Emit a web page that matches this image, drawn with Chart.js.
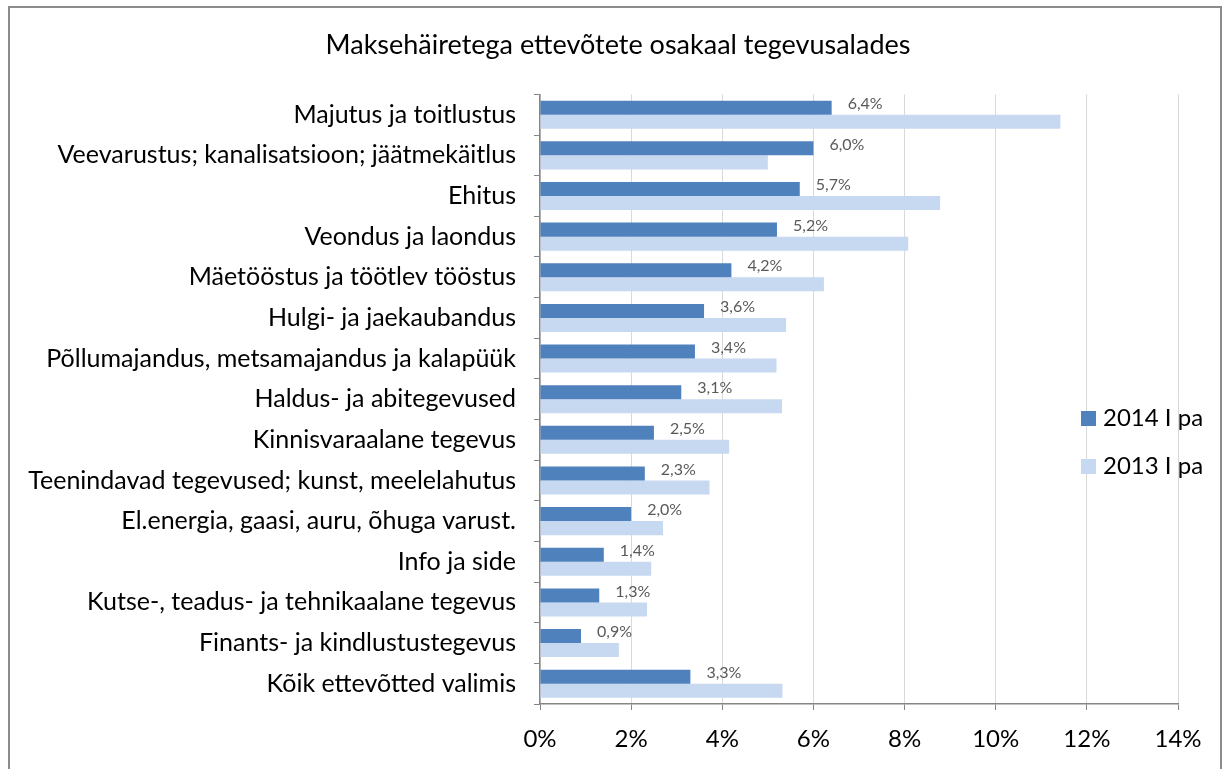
<!DOCTYPE html>
<html>
<head>
<meta charset="utf-8">
<script src="https://cdn.jsdelivr.net/npm/chart.js@4/dist/chart.umd.min.js"></script>
<style>
html,body{margin:0;padding:0;background:#fff;}
#wrap{width:1226px;height:769px;position:relative;}
</style>
</head>
<body>
<div id="wrap"><canvas id="c" width="1226" height="769"></canvas></div>
<script>
const chartTitle = "Maksehäiretega ettevõtete osakaal tegevusalades";
const categories = [
  "Majutus ja toitlustus",
  "Veevarustus; kanalisatsioon; jäätmekäitlus",
  "Ehitus",
  "Veondus ja laondus",
  "Mäetööstus ja töötlev tööstus",
  "Hulgi- ja jaekaubandus",
  "Põllumajandus, metsamajandus ja kalapüük",
  "Haldus- ja abitegevused",
  "Kinnisvaraalane tegevus",
  "Teenindavad tegevused; kunst, meelelahutus",
  "El.energia, gaasi, auru, õhuga varust.",
  "Info ja side",
  "Kutse-, teadus- ja tehnikaalane tegevus",
  "Finants- ja kindlustustegevus",
  "Kõik ettevõtted valimis"
];
const seriesNames = ["2014 I pa", "2013 I pa"];
const values2014 = [6.4, 6.0, 5.7, 5.2, 4.2, 3.6, 3.4, 3.1, 2.5, 2.3, 2.0, 1.4, 1.3, 0.9, 3.3];
const values2013 = [11.42, 5.0, 8.78, 8.08, 6.23, 5.40, 5.19, 5.31, 4.15, 3.72, 2.70, 2.44, 2.35, 1.73, 5.32];
const xTickValues = [0, 2, 4, 6, 8, 10, 12, 14];

const FONT = "Lato, 'Open Sans', sans-serif";
const AXIS_GRAY = '#868686';

const framePlugin = {
  id: 'frame',
  beforeDraw(chart) {
    const ctx = chart.ctx;
    ctx.save();
    ctx.fillStyle = '#ffffff';
    ctx.fillRect(0, 0, chart.width, chart.height);
    ctx.strokeStyle = '#8c8c8c';
    ctx.lineWidth = 2;
    ctx.strokeRect(9, 7, 1212, 800);
    ctx.restore();
  }
};

// let the long category labels use the space left of the y scale box
const labelRoomPlugin = {
  id: 'labelRoom',
  afterLayout(chart) {
    const y = chart.scales.y;
    y.left = 0;
  }
};

const dataLabelPlugin = {
  id: 'dataLabels',
  afterDatasetsDraw(chart) {
    const ctx = chart.ctx;
    const meta = chart.getDatasetMeta(0);
    ctx.save();
    ctx.font = "16px " + FONT;
    ctx.fillStyle = '#595959';
    ctx.textAlign = 'left';
    ctx.textBaseline = 'middle';
    meta.data.forEach((bar, i) => {
      const v = chart.data.datasets[0].data[i];
      const txt = v.toFixed(1).replace('.', ',') + '%';
      ctx.fillText(txt, bar.x + 16, bar.y - 4);
    });
    ctx.restore();
  }
};

const legendPlugin = {
  id: 'customLegend',
  afterDraw(chart) {
    const ctx = chart.ctx;
    const x0 = 1081, ys = [418, 466];
    ctx.save();
    ctx.font = "24px " + FONT;
    ctx.textBaseline = 'middle';
    ctx.textAlign = 'left';
    chart.data.datasets.forEach((ds, i) => {
      ctx.fillStyle = ds.backgroundColor;
      ctx.fillRect(x0, ys[i] - 7, 15, 15);
      ctx.fillStyle = '#000';
      ctx.fillText(ds.label, x0 + 22, ys[i]);
    });
    ctx.restore();
  }
};

new Chart(document.getElementById('c'), {
  type: 'bar',
  data: {
    labels: categories,
    datasets: [
      { label: seriesNames[0], data: values2014, backgroundColor: '#4F81BD', categoryPercentage: 0.69, barPercentage: 1.0 },
      { label: seriesNames[1], data: values2013, backgroundColor: '#C6D9F1', categoryPercentage: 0.69, barPercentage: 1.0 }
    ]
  },
  options: {
    indexAxis: 'y',
    responsive: false,
    animation: false,
    layout: { padding: { left: 58, right: 48, top: 0, bottom: 0 } },
    plugins: {
      legend: { display: false },
      tooltip: { enabled: false },
      title: {
        display: true,
        text: chartTitle,
        color: '#000',
        font: { family: FONT, size: 27, weight: 'normal' },
        lineHeight: 1.2,
        padding: { top: 29, bottom: 33 }
      }
    },
    scales: {
      x: {
        type: 'linear',
        min: 0,
        max: 14,
        afterBuildTicks(scale) { scale.ticks = xTickValues.map(v => ({ value: v })); },
        afterFit(scale) { scale.height = 65; },
        grid: { color: '#D9D9D9', lineWidth: 1, drawTicks: true, tickLength: 6, tickColor: AXIS_GRAY },
        border: { display: true, color: AXIS_GRAY, width: 1.5 },
        ticks: {
          color: '#000',
          font: { family: FONT, size: 24 },
          padding: 15,
          callback: v => v + '%'
        }
      },
      y: {
        afterFit(scale) { scale.width = 540 - 58; },
        grid: { drawOnChartArea: false, drawTicks: true, tickLength: 6, tickColor: AXIS_GRAY, offset: true },
        border: { display: true, color: AXIS_GRAY, width: 1.5 },
        ticks: {
          color: '#000',
          font: { family: FONT, size: 25 },
          padding: 18,
          autoSkip: false
        }
      }
    }
  },
  plugins: [framePlugin, labelRoomPlugin, dataLabelPlugin, legendPlugin]
});
</script>
</body>
</html>
